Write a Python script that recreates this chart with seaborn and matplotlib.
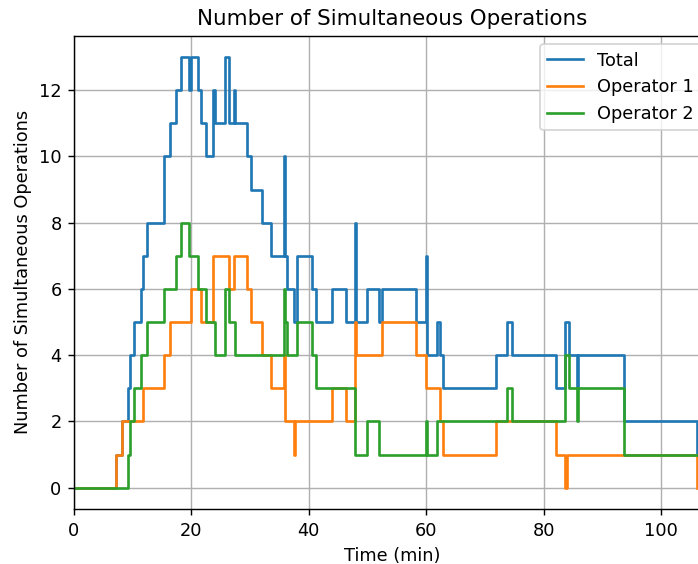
import numpy as np
import pandas as pd
import seaborn as sn
import matplotlib
matplotlib.use("Agg")
import matplotlib.pyplot as plt

# step change times (min) and level after each change
total_t = [0, 7.2, 8.2, 9.2, 9.5, 10.3, 11.4, 11.75, 12.4, 15.3, 15.4, 16.3, 17.3, 18.3,
           19.6, 20.0, 21.1, 21.6, 22.4, 23.7, 24.0, 25.8, 26.4, 27.2, 27.4, 29.5, 30.2,
           32.1, 33.5, 35.8, 36.0, 36.3, 37.45, 37.9, 40.6, 41.2, 43.9, 46.3, 47.9, 48.1,
           49.9, 51.9, 52.4, 58.2, 59.9, 60.1, 61.8, 62.3, 62.8, 71.8, 73.8, 74.6, 82.1,
           83.7, 84.3, 85.6, 85.8, 93.6, 106.1]
total_v = [0, 1, 2, 3, 4, 5, 6, 7, 8, 9, 10, 11, 12, 13,
           12, 13, 12, 11, 10, 12, 11, 13, 11, 12, 11, 10, 9,
           8, 7, 10, 7, 6, 5, 7, 6, 5, 6, 5, 8, 5,
           6, 5, 6, 5, 7, 4, 5, 4, 3, 4, 5, 4, 3,
           5, 4, 3, 4, 2, 1]

op1_t = [0, 7.2, 8.2, 11.75, 15.3, 16.3, 20.0, 21.6, 23.7, 26.4, 27.2, 29.5, 30.2, 32.1,
         33.5, 35.8, 36.0, 37.45, 37.6, 43.9, 46.3, 47.9, 48.1, 52.4, 58.2, 59.9, 62.3,
         62.8, 71.8, 82.1, 83.7, 83.9, 106.1]
op1_v = [0, 1, 2, 3, 4, 5, 6, 5, 7, 6, 7, 6, 5, 4,
         3, 4, 2, 1, 2, 3, 2, 5, 4, 5, 4, 3, 2,
         1, 2, 1, 0, 1, 0]

op2_t = [0, 9.2, 9.5, 10.3, 11.4, 12.4, 15.3, 17.3, 18.3, 19.6, 21.1, 22.4, 24.0, 25.8,
         26.4, 27.4, 35.8, 36.0, 36.2, 37.9, 40.6, 41.2, 47.9, 49.9, 51.9, 59.9, 60.2,
         61.8, 73.8, 74.6, 83.7, 84.3, 85.6, 85.8, 93.6, 106.1]
op2_v = [0, 1, 2, 3, 4, 5, 6, 7, 8, 7, 6, 5, 4, 6,
         5, 4, 6, 5, 4, 5, 4, 3, 1, 2, 1, 2, 1,
         2, 3, 2, 4, 3, 2, 3, 1, 1]

labels = ["Total", "Operator 1", "Operator 2"]
colors = ["#1f77b4", "#ff7f0e", "#2ca02c"]

DPI = 128
fig = plt.figure(figsize=(698 / DPI, 564 / DPI), dpi=DPI)
# axes runs a little past the right edge, like the reference crop
ax = fig.add_axes([0.106, 0.097, 0.911, 0.840])

for t, v, lab, c in zip([total_t, op1_t, op2_t], [total_v, op1_v, op2_v], labels, colors):
    sn.lineplot(x=t, y=v, ax=ax, drawstyle="steps-post", estimator=None,
                color=c, label=lab, linewidth=1.5)

ax.set_xlim(0, 108.3)
ax.set_yticks(range(0, 14, 2))
ax.grid(True)
ax.set_title("Number of Simultaneous Operations")
ax.set_xlabel("Time (min)")
ax.set_ylabel("Number of Simultaneous Operations")
ax.legend(loc="upper right")

fig.savefig("out.png", dpi=DPI)
